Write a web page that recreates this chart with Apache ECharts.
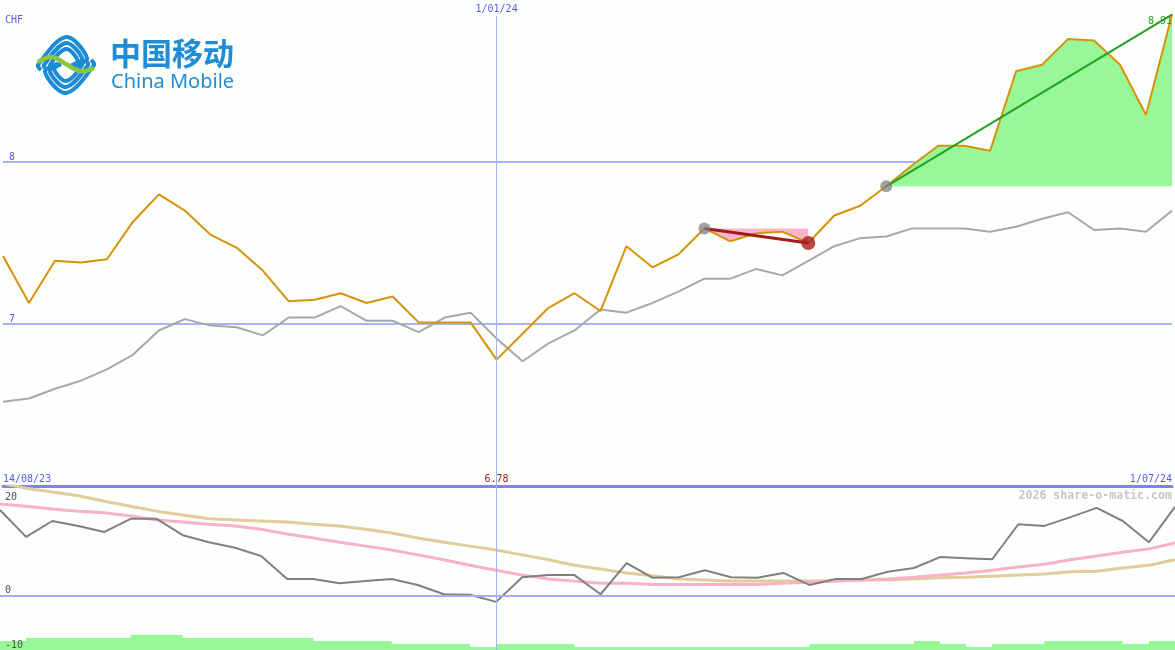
<!DOCTYPE html>
<html><head><meta charset="utf-8">
<script src="https://cdn.jsdelivr.net/npm/echarts@6/dist/echarts.min.js"></script>
<style>html,body{margin:0;padding:0;background:#fdfffd;}#c{width:1175px;height:650px;}</style>
</head><body><div id="c"></div>
<script>
const dates = ['14/08/23','21/08/23','28/08/23','4/09/23','11/09/23','18/09/23','25/09/23','2/10/23','9/10/23','16/10/23','23/10/23','30/10/23','6/11/23','13/11/23','20/11/23','27/11/23','4/12/23','11/12/23','18/12/23','1/01/24','8/01/24','15/01/24','22/01/24','29/01/24','5/02/24','12/02/24','19/02/24','26/02/24','4/03/24','11/03/24','18/03/24','25/03/24','1/04/24','8/04/24','15/04/24','22/04/24','29/04/24','6/05/24','13/05/24','20/05/24','27/05/24','3/06/24','10/06/24','17/06/24','24/06/24','1/07/24'];
const price = [7.42,7.13,7.39,7.38,7.40,7.63,7.80,7.70,7.55,7.47,7.33,7.14,7.15,7.19,7.13,7.17,7.01,7.01,7.01,6.78,6.94,7.10,7.19,7.08,7.48,7.35,7.43,7.59,7.51,7.56,7.57,7.50,7.67,7.73,7.85,7.98,8.10,8.10,8.07,8.56,8.60,8.76,8.75,8.60,8.29,8.91];
const avgMain = [6.52,6.54,6.60,6.65,6.72,6.81,6.96,7.03,6.99,6.98,6.93,7.04,7.04,7.11,7.02,7.02,6.95,7.04,7.07,6.91,6.77,6.88,6.96,7.09,7.07,7.13,7.20,7.28,7.28,7.34,7.30,7.39,7.48,7.53,7.54,7.59,7.59,7.59,7.57,7.60,7.65,7.69,7.58,7.59,7.57,7.70];
const momentum = [15.6,10.7,13.6,12.7,11.6,14.0,14.0,11.0,9.7,8.7,7.2,3.0,3.0,2.2,2.6,3.0,1.9,0.2,0.1,-1.2,3.3,3.7,3.7,0.2,5.9,3.2,3.3,4.6,3.3,3.2,4.1,1.9,3.0,3.0,4.3,5.0,7.0,6.8,6.6,13.0,12.7,14.3,16.0,13.6,9.7,16.2];
const pinkAvg = [16.7,16.3,15.8,15.4,15.1,14.5,13.8,13.4,13.0,12.7,12.1,11.2,10.5,9.7,9.0,8.3,7.4,6.5,5.5,4.6,3.7,3.0,2.6,2.2,2.2,2.0,2.0,2.0,2.0,2.0,2.2,2.4,2.6,2.8,3.0,3.3,3.7,4.1,4.6,5.2,5.7,6.5,7.2,7.9,8.5,9.6];
const tanAvg = [20.6,19.6,18.9,18.2,17.2,16.3,15.4,14.7,14.0,13.8,13.6,13.4,13.0,12.7,12.1,11.4,10.5,9.7,9.0,8.3,7.4,6.5,5.5,4.8,4.1,3.6,3.0,2.8,2.6,2.6,2.6,2.6,2.6,2.8,2.8,3.0,3.2,3.3,3.5,3.7,3.9,4.3,4.4,5.0,5.5,6.5];
const volume = [-8.35,-7.8,-7.8,-7.8,-7.8,-7.25,-7.25,-7.8,-7.8,-7.8,-7.8,-7.8,-8.35,-8.35,-8.35,-8.9,-8.9,-8.9,-9.45,-8.9,-8.9,-8.9,-9.45,-9.45,-9.45,-9.45,-9.45,-9.45,-9.45,-9.45,-9.45,-8.9,-8.9,-8.9,-8.9,-8.35,-8.9,-9.45,-8.9,-8.9,-8.35,-8.35,-8.35,-8.9,-8.35,-8.35];
const mainTickLabels = [7, 8];
const lowTickLabelsBottom = [0, -10];
const lowTickLabelsTop = [20];
const refDate = '1/01/24';
const currency = 'CHF';
const credit = '2026 share-o-matic.com';
const downFrom = 27, downTo = 31, upFrom = 34;

const lastIdx = price.length - 1;
const minPrice = Math.min(...price);
const minIdx = price.indexOf(minPrice);
const refIdx = dates.indexOf(refDate);
const span = (arr, a, b) => arr.map((v, i) => (i >= a && i <= b ? v : null));
const pick = (arr, idxs) => arr.map((v, i) => (idxs.includes(i) ? v : null));

const BLUE = '#5a5aee';
const MONO = 'DejaVu Sans Mono';

// logo icon stripes (decoration)
const logoEls = [];
const cx = 66, cy = 65;
[3, 9, 15].forEach(e => {
  const d = 31 - e;
  const pts = [[cx - 31 + e + 3, cy + 5], [cx - 31 + e, cy], [cx, cy - 31 + e], [cx + 0.75 * d, cy - 31 + e + 0.75 * d], [cx + 0.3 * d, cy + 0.05 * d]];
  logoEls.push({type: 'polyline', shape: {points: pts, smooth: 0.35}, style: {stroke: '#1b8bd6', lineWidth: 4, fill: null}});
  logoEls.push({type: 'polyline', shape: {points: pts.map(p => [2 * cx - p[0], 2 * cy - p[1]]), smooth: 0.35}, style: {stroke: '#1b8bd6', lineWidth: 4, fill: null}});
});
logoEls.push({type: 'polyline', shape: {points: [[38, 62], [52, 57], [66, 64], [80, 71], [94, 68]], smooth: 0.4}, style: {stroke: '#8cc63e', lineWidth: 4.5, fill: null}});
logoEls.push({type: 'text', x: 110, y: 38, style: {text: '中国移动', font: 'bold 31px "Noto Sans CJK SC"', fill: '#1f8dd6'}});
logoEls.push({type: 'text', x: 111, y: 72, style: {text: 'China Mobile', font: '20px "Noto Sans"', fill: '#1f8dd6'}});

const chart = echarts.init(document.getElementById('c'));
chart.setOption({
  backgroundColor: '#fdfffd',
  animation: false,
  textStyle: {fontFamily: MONO},
  title: [
    {text: currency, left: 5, top: 15, padding: 0, textStyle: {fontSize: 10, fontWeight: 'normal', color: BLUE, fontFamily: MONO}},
    {text: credit, right: 3, top: 490, padding: 0, textStyle: {fontSize: 11.6, fontWeight: 'bold', color: '#c6c6c6', fontFamily: MONO}}
  ],
  graphic: logoEls,
  grid: [
    {left: 0, right: 0, top: 0, height: 486},
    {left: 0, right: 0, top: 486, height: 164}
  ],
  xAxis: [
    {gridIndex: 0, type: 'category', data: dates, boundaryGap: false, position: 'bottom',
     axisLine: {show: true, lineStyle: {color: '#7b86ec', width: 3}}, axisTick: {show: false}, splitLine: {show: false},
     axisLabel: {inside: true, margin: 2, fontSize: 10, fontFamily: MONO, color: BLUE,
       interval: i => i === 0 || i === minIdx || i === lastIdx,
       formatter: (v, i) => (i === minIdx ? '{m|' + minPrice.toFixed(2) + '}' : v),
       rich: {m: {color: '#a01c1c', fontSize: 10, fontFamily: MONO}},
       alignMinLabel: 'left', alignMaxLabel: 'right'}},
    {gridIndex: 0, type: 'category', data: dates, boundaryGap: false, position: 'top',
     axisLine: {show: false}, axisTick: {show: false}, splitLine: {show: false},
     axisLabel: {inside: true, margin: 4, fontSize: 10, fontFamily: MONO, color: BLUE, interval: i => i === refIdx}},
    {gridIndex: 1, type: 'category', data: dates, boundaryGap: false, show: false}
  ],
  yAxis: [
    {gridIndex: 0, type: 'value', min: 6, max: 9, interval: 1, axisLine: {show: false}, axisTick: {show: false},
     splitLine: {show: true, showMinLine: false, showMaxLine: false, lineStyle: {color: '#a8b2f4', width: 2}},
     axisLabel: {inside: true, margin: 6, fontSize: 10, fontFamily: MONO, color: BLUE, verticalAlign: 'bottom',
       formatter: v => (mainTickLabels.includes(v) ? String(v) : '')}},
    {gridIndex: 1, type: 'value', position: 'left', z: 10, min: -10, max: 20, interval: 10, axisLine: {show: false}, axisTick: {show: false}, splitLine: {show: false},
     axisLabel: {inside: true, margin: 5, fontSize: 10, fontFamily: MONO, color: '#505050', verticalAlign: 'bottom',
       formatter: v => (lowTickLabelsBottom.includes(v) ? String(v) : '')}},
    {gridIndex: 1, type: 'value', position: 'left', offset: 0, z: 10, min: -10, max: 20, interval: 10, axisLine: {show: false}, axisTick: {show: false}, splitLine: {show: false},
     axisLabel: {inside: true, margin: 5, fontSize: 10, fontFamily: MONO, color: '#505050', verticalAlign: 'top', padding: [6, 0, 0, 0],
       formatter: v => (lowTickLabelsTop.includes(v) ? String(v) : '')}}
  ],
  series: [
    {type: 'line', xAxisIndex: 2, yAxisIndex: 1, data: volume, step: 'end', symbol: 'none', silent: true,
     lineStyle: {width: 0}, areaStyle: {color: '#98f898', opacity: 1, origin: 'start'}, z: 1},
    {type: 'line', xAxisIndex: 2, yAxisIndex: 1, data: tanAvg, symbol: 'none', silent: true, lineStyle: {color: '#e2cc9c', width: 3}, z: 2},
    {type: 'line', xAxisIndex: 2, yAxisIndex: 1, data: pinkAvg, symbol: 'none', silent: true, lineStyle: {color: '#f8b2c8', width: 3}, z: 3},
    {type: 'line', xAxisIndex: 2, yAxisIndex: 1, data: momentum, symbol: 'none', silent: true, lineStyle: {color: '#808080', width: 2}, z: 4,
     markLine: {silent: true, symbol: 'none', label: {show: false},
       data: [{yAxis: 0, lineStyle: {color: '#a2b0f0', width: 2, type: 'solid'}},
              {xAxis: refDate, lineStyle: {color: '#a8b2f0', width: 1, type: 'solid'}}]}},
    {type: 'line', xAxisIndex: 0, yAxisIndex: 0, data: span(price, upFrom, lastIdx), symbol: 'none', silent: true,
     lineStyle: {width: 0}, areaStyle: {color: '#98f898', opacity: 1, origin: price[upFrom]}, z: 1},
    {type: 'line', xAxisIndex: 0, yAxisIndex: 0, data: span(price, downFrom, downTo), symbol: 'none', silent: true,
     lineStyle: {width: 0}, areaStyle: {color: '#f8b4c8', opacity: 1, origin: price[downFrom]}, z: 1},
    {type: 'line', xAxisIndex: 0, yAxisIndex: 0, data: avgMain, symbol: 'none', silent: true, lineStyle: {color: '#a8a8a8', width: 2}, z: 2,
     markLine: {silent: true, symbol: 'none', label: {show: false},
       data: [[{xAxis: refDate, yAxis: 8.9}, {xAxis: refDate, yAxis: 6}]], lineStyle: {color: '#a8b2f0', width: 1, type: 'solid'}}},
    {type: 'line', xAxisIndex: 0, yAxisIndex: 0, data: price, symbol: 'none', silent: true, lineStyle: {color: '#d8920a', width: 2}, z: 3},
    {type: 'line', xAxisIndex: 0, yAxisIndex: 0, data: pick(price, [downFrom, downTo]), connectNulls: true, symbol: 'none', silent: true,
     lineStyle: {color: '#a01c1c', width: 3}, z: 4},
    {type: 'line', xAxisIndex: 0, yAxisIndex: 0, connectNulls: true, silent: true, showSymbol: true, symbol: 'none',
     data: price.map((v, i) => (i === upFrom ? v : i === lastIdx ? {value: v, symbol: 'circle', symbolSize: 1,
       label: {show: true, position: 'bottom', align: 'right', distance: 1, color: '#22a022', fontSize: 10, fontFamily: MONO,
         formatter: () => price[lastIdx].toFixed(2)}} : null)),
     lineStyle: {color: '#22a022', width: 2}, itemStyle: {color: '#22a022'}, z: 4},
    {type: 'scatter', xAxisIndex: 0, yAxisIndex: 0, silent: true, z: 5,
     data: [{value: [downFrom, price[downFrom]], symbolSize: 12, itemStyle: {color: 'rgba(125,125,125,0.9)'}},
            {value: [upFrom, price[upFrom]], symbolSize: 12, itemStyle: {color: 'rgba(125,125,125,0.9)'}},
            {value: [downTo, price[downTo]], symbolSize: 14, itemStyle: {color: '#a51d1d'}}]}
  ]
});
</script></body></html>
